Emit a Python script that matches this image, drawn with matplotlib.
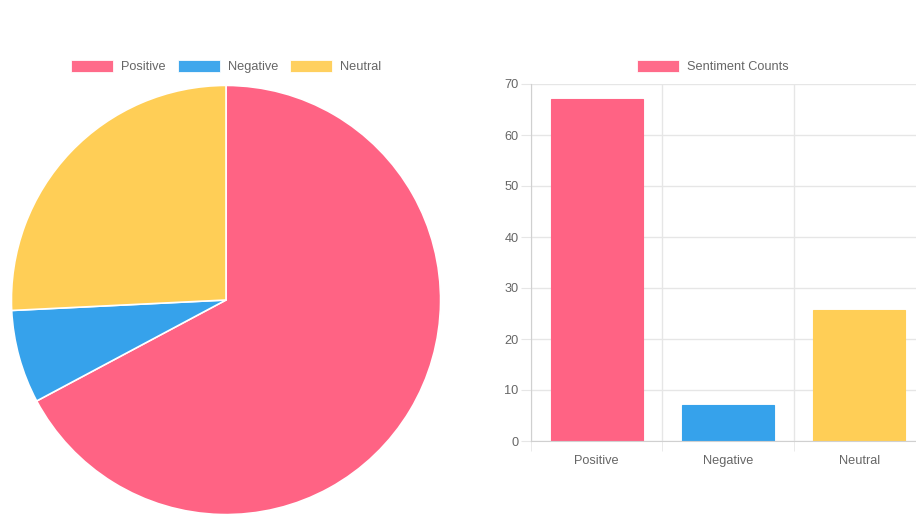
import matplotlib
matplotlib.use('Agg')
import matplotlib.pyplot as plt
from matplotlib.patches import Rectangle

plt.rcParams['font.family'] = ['Liberation Sans', 'DejaVu Sans']

# data
labels = ['Positive', 'Negative', 'Neutral']
counts = [67, 7, 25.7]
colors = ['#FF6384', '#36A2EB', '#FFCE56']
bar_label = 'Sentiment Counts'
yticks = [0, 10, 20, 30, 40, 50, 60, 70]

W, H = 916, 516
TXT = '#666666'
GRID = '#e6e6e6'

fig = plt.figure(figsize=(W / 100, H / 100), dpi=100)


def px(x, y, w, h):
    # pixel box (top-left origin) -> figure fraction
    return [x / W, (H - y - h) / H, w / W, h / H]


# pie chart
ax1 = fig.add_axes(px(11, 85, 430, 430))
ax1.pie(counts, colors=colors, startangle=90, counterclock=False, radius=1,
        wedgeprops=dict(edgecolor='white', linewidth=1.2))
ax1.set_xlim(-1.002, 1.002)
ax1.set_ylim(-1.002, 1.002)
ax1.set_aspect('auto')
ax1.axis('off')


def legend_item(x, y, color, text):
    fig.patches.append(Rectangle((x / W, (H - y - 6) / H), 42 / W, 12 / H,
                                 transform=fig.transFigure, facecolor=color,
                                 edgecolor='white', linewidth=0.6, alpha=0.95))
    fig.text((x + 50) / W, (H - y - 1) / H, text, color=TXT, fontsize=9.2,
             va='center', ha='left')


# pie legend
for xl, c, lab in zip([71, 178, 290], colors, labels):
    legend_item(xl, 66, c, lab)

# bar chart
ax2 = fig.add_axes(px(531, 84, 394, 357))
xs = range(len(labels))
ax2.bar(xs, counts, width=0.7, color=colors, edgecolor=colors, linewidth=0.8)
ax2.set_xlim(-0.5, len(labels) - 0.5)
ax2.set_ylim(0, 70)
ax2.set_yticks(yticks)
ax2.set_xticks(list(xs))
ax2.set_xticklabels(labels)
ax2.set_xticks([i - 0.5 for i in range(len(labels) + 1)], minor=True)
ax2.grid(True, which='minor', axis='x', color=GRID, linewidth=1)
ax2.grid(True, which='major', axis='y', color=GRID, linewidth=1)
ax2.set_axisbelow(True)
ax2.tick_params(axis='y', length=7, color=GRID, labelcolor=TXT, labelsize=9.2, pad=2)
ax2.tick_params(axis='x', which='major', length=0, labelcolor=TXT, labelsize=9.2, pad=10)
ax2.tick_params(axis='x', which='minor', length=7, color=GRID)
for s in ['top', 'right']:
    ax2.spines[s].set_visible(False)
ax2.spines['left'].set_color('#d0d0d0')
ax2.spines['bottom'].set_color('#d0d0d0')

legend_item(637, 66, colors[0], bar_label)

fig.savefig('out.png', dpi=100)
